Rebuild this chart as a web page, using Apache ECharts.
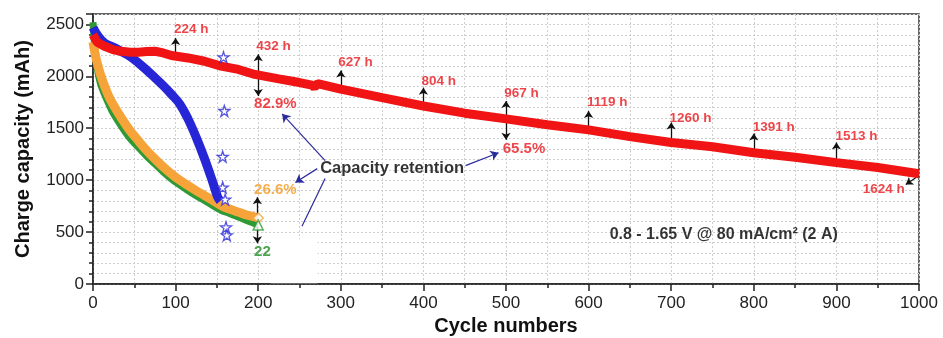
<!DOCTYPE html>
<html><head><meta charset="utf-8">
<script src="https://cdn.jsdelivr.net/npm/echarts@6/dist/echarts.min.js"></script>
<style>html,body{margin:0;padding:0;background:#fff}#c{width:943px;height:338px}</style>
</head><body><div id="c"></div>
<script>
// ---- data ----
const redCycles = [0,5,14,25,34,45,55,65,75,85,95,115,135,155,176,196,225,250,265,268,272,300,350,400,450,500,550,600,650,700,750,800,850,900,950,1000];
const redCap    = [2400,2330,2289,2255,2241,2232,2232,2238,2241,2225,2200,2177,2145,2098,2066,2018,1975,1940,1915,1895,1930,1877,1795,1714,1645,1590,1533,1484,1419,1362,1321,1264,1221,1169,1122,1062];

const blueCycles = [0,5,14,25,34,45,55,65,75,85,95,105,115,125,135,145,151,154];
const blueCap    = [2470,2400,2321,2280,2241,2190,2129,2060,1986,1910,1826,1734,1590,1411,1207,980,836,800];

const orangeCycles = [0,2,4,9,14,19,24,34,44,55,65,75,85,95,105,115,125,135,145,155,165,176,186,196,200];
const orangeCap    = [2330,2240,2162,2020,1906,1810,1734,1603,1485,1379,1285,1204,1128,1060,1000,948,898,852,805,757,722,693,665,645,635];

const greenCycles = [0,2,5,9,14,19,24,34,44,55,65,75,85,95,105,115,125,135,145,155,165,176,186,196,200];
const greenCap    = [2520,2300,2080,1930,1826,1735,1650,1523,1410,1315,1230,1156,1080,1012,955,900,850,805,755,709,680,645,612,581,568];

const starCycles = [158,159,157,157,160,161,162];
const starCap    = [2184,1667,1226,930,813,546,469];

const endCycles = [200,200];
const endCap    = [635,568];

const xTicks = [0,100,200,300,400,500,600,700,800,900,1000];
const yTicks = [0,500,1000,1500,2000,2500];

// annotations (cycle, from, to)
const upArrows = [[100,2210,2370],[300,1890,2056],[400,1734,1890],[600,1507,1667],[700,1379,1555],[800,1284,1450],[900,1194,1363],[199,661,836],[199,549,392]];
const doubleArrows = [[200,1810,2212],[500,1389,1762]];
const endArrow = [[1000,1044],[984,958]];
const hourLabels = ['224 h','432 h','627 h','804 h','967 h','1119 h','1260 h','1391 h','1513 h','1624 h'];
const hourLabelX = [98,197.6,297,397.6,498,598,698,798.8,899,932];
const hourLabelY = [2452,2289,2136,1954,1839,1753,1600,1513,1418,910];
const pctLabels = ['82.9%','65.5%','26.6%','22'];
const pctLabelX = [195,496,195,195];
const pctLabelY = [1734,1303,910,307];
const retentionText = 'Capacity retention';
const retentionPos = [275,1111];
const retentionArrows = [[[281,1188],[229,1638],true],[[271.5,1111],[245,977],true],[[281,1015],[253,556],false],[[451,1140],[491,1264],true]];
const conditionText = '0.8 - 1.65 V @ 80 mA/cm² (2 A)';
const conditionPos = [625.5,479];
const blankPatch = [[215,8],[272,430]];

// ---- chart ----
const FONT = 'Liberation Sans, Arial, sans-serif';
const zip = (a,b)=>a.map((x,i)=>[x,b[i]]);
const starPath = 'path://M50,5 L61,38 L96,38 L68,59 L79,93 L50,72 L21,93 L32,59 L4,38 L39,38 Z';
const pctColors = ['#e8161c','#e8161c','#f39a22','#1f8f24'];

const chart = echarts.init(document.getElementById('c'));

const textData = [];
hourLabels.forEach((t,i)=>textData.push({value:[hourLabelX[i],hourLabelY[i]],name:t,label:{color:'#e8161c',fontSize:13.5}}));
pctLabels.forEach((t,i)=>textData.push({value:[pctLabelX[i],pctLabelY[i]],name:t,label:{color:pctColors[i],fontSize:15}}));
textData.push({value:retentionPos,name:retentionText,label:{color:'#000',fontSize:16.5}});
textData.push({value:conditionPos,name:conditionText,label:{color:'#000',fontSize:16}});

const arrowLines = [];
upArrows.forEach(a=>arrowLines.push([{coord:[a[0],a[1]],symbol:'none'},{coord:[a[0],a[2]],symbol:'arrow'}]));
doubleArrows.forEach(a=>arrowLines.push([{coord:[a[0],a[1]],symbol:'arrow'},{coord:[a[0],a[2]],symbol:'arrow'}]));
arrowLines.push([{coord:endArrow[0],symbol:'none'},{coord:endArrow[1],symbol:'arrow'}]);
const navyLines = retentionArrows.map(r=>[{coord:r[0],symbol:'none'},{coord:r[1],symbol:r[2]?'arrow':'none'}]);

const gridLine = {show:true,lineStyle:{color:'#cfcfcf',type:[2,2],width:1}};

chart.setOption({
  animation:false,
  backgroundColor:'#fff',
  grid:{left:93,right:24,top:14,bottom:54,containLabel:false,outerBoundsMode:'none',show:true,borderColor:'#333',borderWidth:1.5,backgroundColor:'transparent'},
  xAxis:{type:'value',min:0,max:1000,interval:100,
    name:'Cycle numbers',nameLocation:'middle',nameGap:31,
    nameTextStyle:{fontFamily:FONT,fontSize:20,fontWeight:'bold',color:'#111'},
    axisLine:{show:true,onZero:false,lineStyle:{color:'#222',width:1.5}},
    axisTick:{show:true,length:7,lineStyle:{color:'#222',width:1.5}},
    minorTick:{show:true,splitNumber:2,length:4,lineStyle:{color:'#222',width:1.5}},
    axisLabel:{fontFamily:FONT,fontSize:17,color:'#222',margin:11,formatter:v=>xTicks.includes(v)?String(v):''},
    splitLine:gridLine,minorSplitLine:gridLine},
  yAxis:[
    {type:'value',min:0,max:2600,interval:100,
      name:'Charge capacity (mAh)',nameLocation:'middle',nameGap:60,
      nameTextStyle:{fontFamily:FONT,fontSize:20,fontWeight:'bold',color:'#111'},
      axisLine:{show:true,onZero:false,lineStyle:{color:'#222',width:1.5}},
      axisTick:{show:true,length:4,lineStyle:{color:'#222',width:1.5}},
      axisLabel:{fontFamily:FONT,fontSize:17,color:'#222',margin:9,showMaxLabel:false,formatter:v=>yTicks.includes(v)?String(v):''},
      splitLine:gridLine},
    {type:'value',min:0,max:2600,interval:500,position:'left',
      axisLine:{show:false},axisTick:{show:true,length:7,lineStyle:{color:'#222',width:1.5}},
      axisLabel:{show:false},splitLine:{show:false}}
  ],
  series:[
    {type:'line',name:'green',data:zip(greenCycles,greenCap),symbol:'none',smooth:0.3,lineStyle:{color:'#2f9a35',width:7},z:2},
    {type:'line',name:'orange',data:zip(orangeCycles,orangeCap),symbol:'none',smooth:0.3,lineStyle:{color:'#f6a43a',width:9},z:3},
    {type:'line',name:'blue',data:zip(blueCycles,blueCap),symbol:'none',smooth:0.4,lineStyle:{color:'#2626d6',width:9},z:4},
    {type:'line',name:'red',data:zip(redCycles,redCap),symbol:'none',lineStyle:{color:'#f01414',width:9},z:5},
    {type:'scatter',name:'stars',data:zip(starCycles,starCap),symbol:starPath,symbolSize:11,
      itemStyle:{color:'#fff',borderColor:'#2a2ad8',borderWidth:1.3},z:6},
    {type:'scatter',name:'ends',data:[
      {value:[endCycles[0],endCap[0]],symbol:'diamond',itemStyle:{color:'#fff',borderColor:'#f6a43a',borderWidth:1.5}},
      {value:[endCycles[1],endCap[1]],symbol:'triangle',itemStyle:{color:'#fff',borderColor:'#2f9a35',borderWidth:1.5}}],
      symbolSize:10,z:7},
    {type:'scatter',name:'labels',data:textData,symbolSize:0,z:8,silent:true,
      label:{show:true,position:'right',distance:0,fontFamily:FONT,fontWeight:'bold',formatter:p=>p.name},
      markLine:{silent:true,animation:false,symbolSize:7,label:{show:false},
        lineStyle:{color:'#111',width:1.3,type:'solid'},data:arrowLines},
      markArea:{silent:true,itemStyle:{color:'#fff'},data:[[{coord:blankPatch[0]},{coord:blankPatch[1]}]]}},
    {type:'scatter',name:'navy',data:[],symbolSize:0,z:8,silent:true,
      markLine:{silent:true,animation:false,symbolSize:8,label:{show:false},
        lineStyle:{color:'#2b2b9c',width:1.2,type:'solid'},data:navyLines}}
  ]
});
</script></body></html>
